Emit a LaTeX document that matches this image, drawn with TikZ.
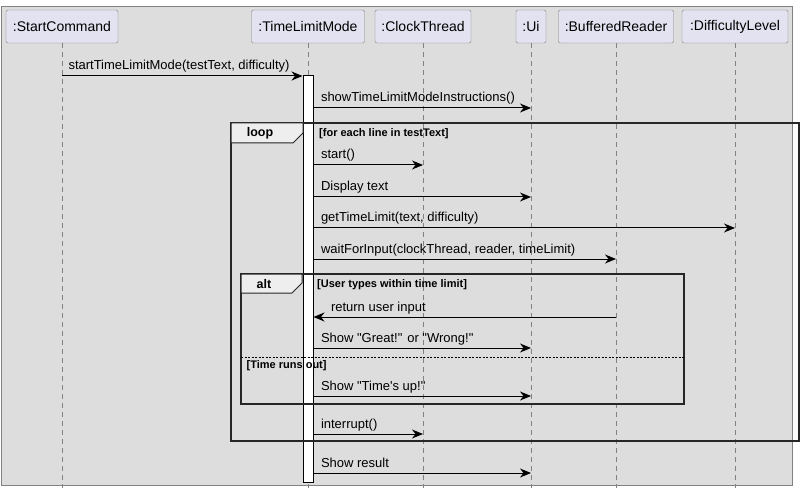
\documentclass[tikz,border=0pt]{standalone}
\usepackage{fontspec}
\setmainfont{Liberation Sans}
\usetikzlibrary{arrows.meta}

\definecolor{bgGray}{RGB}{221,221,221}
\definecolor{partFill}{RGB}{226,226,240}
\definecolor{tabFill}{RGB}{238,238,238}
\definecolor{lineGray}{RGB}{130,130,130}

\tikzset{
  part/.style={draw=lineGray, fill=partFill, rounded corners=2pt, minimum height=33pt,
    inner sep=0pt, font=\fontsize{14}{16}\selectfont},
  life/.style={lineGray, line width=0.8pt, dash pattern=on 5pt off 4pt},
  msg/.style={line width=1pt, -{Stealth[length=11pt,width=9pt,inset=3.5pt]}},
  lbl/.style={anchor=base west, inner sep=0pt, font=\fontsize{13}{15}\selectfont},
  frame/.style={line width=1.5pt, black!85},
  tablbl/.style={inner sep=0pt, font=\bfseries\fontsize{12.5}{14}\selectfont},
  guard/.style={anchor=west, inner sep=0pt, font=\bfseries\fontsize{11}{13}\selectfont}
}

\begin{document}
\begin{tikzpicture}[x=1pt,y=-1pt]
  % Background
  \useasboundingbox (0,0) rectangle (803,497);
  \draw[lineGray, fill=bgGray] (1.5,6) rectangle (792.5,485);

  % Participants
  \node[part, minimum width=112pt] (sc)  at (62,26.5)  {:StartCommand};
  \node[part, minimum width=113pt] (tlm) at (308,26.5) {:TimeLimitMode};
  \node[part, minimum width=96pt]  (ct)  at (423,26.5) {:ClockThread};
  \node[part, minimum width=30pt]  (ui)  at (531,26.5) {:Ui};
  \node[part, minimum width=115pt] (br)  at (616,26.5) {:BufferedReader};
  \node[part, minimum width=106pt] (dl)  at (735,26.5) {:DifficultyLevel};

  % Lifelines
  \coordinate (bottom) at (0,488);
  \foreach \p in {sc,tlm,ct,ui,br,dl}
    \draw[life] (\p.south) -- (\p |- bottom);

  % Activation bar
  \node[draw, line width=1pt, fill=white, minimum width=10pt, minimum height=406pt,
    inner sep=0pt] (act) at (308,279) {};

  % Message rows
  \coordinate (m1)  at (0,76);
  \coordinate (m2)  at (0,108);
  \coordinate (m3)  at (0,165);
  \coordinate (m4)  at (0,197);
  \coordinate (m5)  at (0,228);
  \coordinate (m6)  at (0,259);
  \coordinate (m7)  at (0,317);
  \coordinate (m8)  at (0,348);
  \coordinate (m9)  at (0,396);
  \coordinate (m10) at (0,434);
  \coordinate (m11) at (0,473);

  % Messages
  \draw[msg] (sc |- m1) -- (act.west |- m1)
    node[lbl, pos=0, xshift=6pt, yshift=6pt] {startTimeLimitMode(testText, difficulty)};
  \draw[msg] (act.east |- m2) -- (ui |- m2)
    node[lbl, pos=0, xshift=7pt, yshift=6pt] {showTimeLimitModeInstructions()};
  \draw[msg] (act.east |- m3) -- (ct |- m3)
    node[lbl, pos=0, xshift=7pt, yshift=6pt] {start()};
  \draw[msg] (act.east |- m4) -- (ui |- m4)
    node[lbl, pos=0, xshift=7pt, yshift=6pt] {Display text};
  \draw[msg] (act.east |- m5) -- (dl |- m5)
    node[lbl, pos=0, xshift=7pt, yshift=6pt] {getTimeLimit(text, difficulty)};
  \draw[msg] (act.east |- m6) -- (br |- m6)
    node[lbl, pos=0, xshift=7pt, yshift=6pt] {waitForInput(clockThread, reader, timeLimit)};
  \draw[msg] (br |- m7) -- (act.east |- m7)
    node[lbl, pos=1, xshift=17pt, yshift=6pt] {return user input};
  \draw[msg] (act.east |- m8) -- (ui |- m8)
    node[lbl, pos=0, xshift=7pt, yshift=6pt] {Show \textquotedbl Great!\textquotedbl{} or \textquotedbl Wrong!\textquotedbl};
  \draw[msg] (act.east |- m9) -- (ui |- m9)
    node[lbl, pos=0, xshift=7pt, yshift=6pt] {Show \textquotedbl Time\textquotesingle s up!\textquotedbl};
  \draw[msg] (act.east |- m10) -- (ct |- m10)
    node[lbl, pos=0, xshift=7pt, yshift=6pt] {interrupt()};
  \draw[msg] (act.east |- m11) -- (ui |- m11)
    node[lbl, pos=0, xshift=7pt, yshift=6pt] {Show result};

  % Loop frame
  \draw[frame] (231,123) rectangle (799,441);
  \draw[frame, line width=1pt, fill=tabFill] (231,123) -- (303,123) -- (303,133) -- (293,143) -- (231,143) -- cycle;
  \node[tablbl] (looptab) at (260,133) {loop};
  \node[guard] (loopguard) at (319,133.5) {[for each line in testText]};

  % Alt frame
  \draw[frame] (241,274) rectangle (684,404);
  \draw[frame, line width=1pt, fill=tabFill] (241,274) -- (302,274) -- (302,283) -- (292,293) -- (241,293) -- cycle;
  \node[tablbl] (alttab) at (264,284) {alt};
  \node[guard] (altguard) at (317,285) {[User types within time limit]};
  \draw[black, line width=0.8pt, dash pattern=on 2pt off 1.5pt] (241,357) -- (684,357);
  \node[guard] (elseguard) at (246.5,366) {[Time runs out]};
\end{tikzpicture}
\end{document}
